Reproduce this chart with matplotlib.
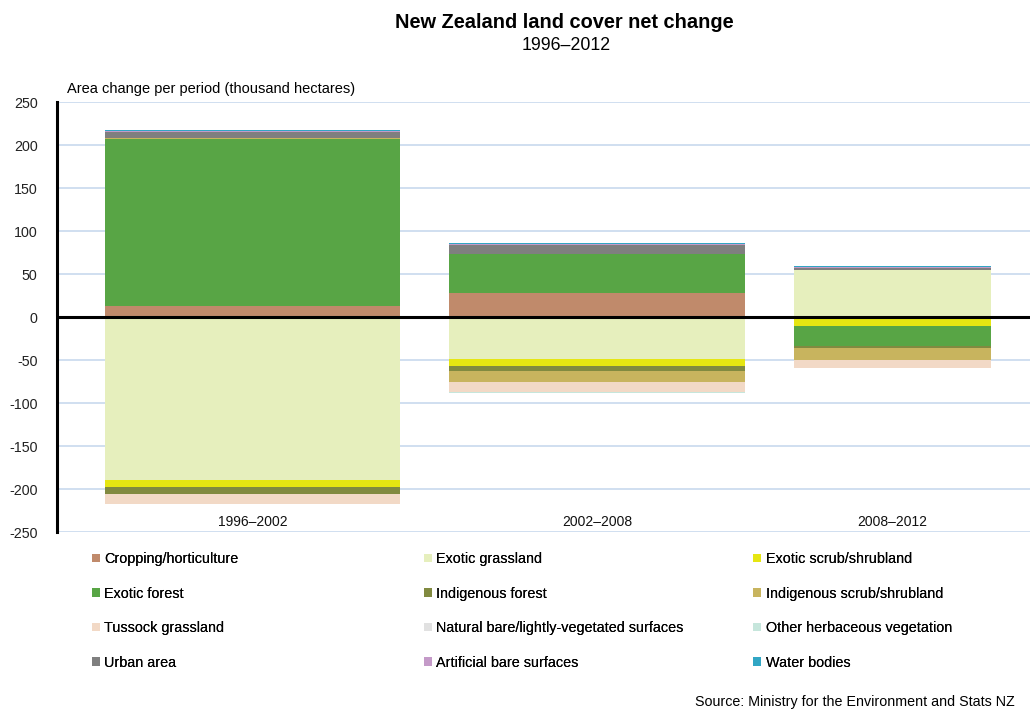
import matplotlib.pyplot as plt
from matplotlib.patches import Patch

plt.rcParams['font.family'] = ['Liberation Sans', 'DejaVu Sans']
plt.rcParams['axes.unicode_minus'] = False

# periods and their length in years (bar width follows the years)
periods = ['1996\u20132002', '2002\u20132008', '2008\u20132012']
years = [6, 6, 4]

classes = ['Cropping/horticulture', 'Exotic grassland', 'Exotic scrub/shrubland',
           'Exotic forest', 'Indigenous forest', 'Indigenous scrub/shrubland',
           'Tussock grassland', 'Natural bare/lightly-vegetated surfaces',
           'Other herbaceous vegetation', 'Urban area', 'Artificial bare surfaces',
           'Water bodies']

# net change, thousand hectares, per period
cropping = [13.0, 27.5, 0.0]
exotic_grass = [-189.0, -49.0, 54.7]
exotic_scrub = [-8.5, -8.0, -10.5]
exotic_forest = [194.0, 45.5, -23.5]
indig_forest = [-8.0, -5.5, -1.5]
indig_scrub = [1.5, -12.5, -14.0]
tussock = [-11.5, -12.0, -9.5]
natural_bare = [0.0, 0.0, 0.0]
other_herb = [-1.0, -1.2, -0.8]
urban = [7.0, 10.5, 2.5]
artificial = [0.5, 1.2, 1.0]
water = [1.5, 1.2, 1.0]

colors = ['#c08a6b', '#e6efbd', '#e6e612', '#58a545', '#818a40', '#c8b45e',
          '#f2d9c6', '#e1e1e1', '#c6e6dc', '#7f7f7f', '#c49ac8', '#31a6c4']

series = [cropping, exotic_grass, exotic_scrub, exotic_forest, indig_forest,
          indig_scrub, tussock, natural_bare, other_herb, urban, artificial, water]

fig = plt.figure(figsize=(10.3, 7.09), dpi=100)
ax = fig.add_axes([57 / 1030, 1 - 532 / 709, 1 - 57 / 1030, 430 / 709])

# bar start positions: one year gap between periods
starts = []
x = 0
for y in years:
    starts.append(x)
    x += y + 1

pos_base = [0.0] * len(periods)
neg_base = [0.0] * len(periods)
for vals, c in zip(series, colors):
    bottoms = []
    for i, v in enumerate(vals):
        if v >= 0:
            bottoms.append(pos_base[i])
            pos_base[i] += v
        else:
            bottoms.append(neg_base[i])
            neg_base[i] += v
    ax.bar(starts, vals, width=years, bottom=bottoms, align='edge',
           color=c, edgecolor='none', zorder=2)

ax.set_xlim(-0.97, 18.8)
ax.set_ylim(-250, 250)
ax.set_yticks(range(-250, 251, 50))
ax.set_xticks([])
ax.tick_params(axis='y', length=0, pad=14, labelsize=10.3, labelcolor='#222222')
ax.grid(axis='y', color='#c3d6ec', linewidth=1.1, zorder=0)
for s in ['top', 'right', 'bottom']:
    ax.spines[s].set_visible(False)
ax.spines['left'].set_linewidth(2.2)
ax.axhline(0, color='black', linewidth=2.2, zorder=3)

for s0, w, lab in zip(starts, years, periods):
    ax.text(s0 + w / 2, -238, lab, ha='center', va='center', fontsize=10,
            color='#111111')

fig.text(564 / 1030, 1 - 23 / 709, 'New Zealand land cover net change', ha='center',
         va='center', fontsize=14.4, fontweight='bold')
fig.text(566 / 1030, 1 - 46 / 709, '1996\u20132012', ha='center', va='center',
         fontsize=12.8)
fig.text(67 / 1030, 1 - 89 / 709, 'Area change per period (thousand hectares)',
         ha='left', va='center', fontsize=10.5)
fig.text(1015 / 1030, 1 - 702 / 709, 'Source: Ministry for the Environment and Stats NZ',
         ha='right', va='center', fontsize=10.3)

# legend: three columns, read row-wise
handles = [Patch(facecolor=c, edgecolor='none', label=l) for c, l in zip(colors, classes)]
col_x = [85, 417, 746]
for k, cx in enumerate(col_x):
    leg = fig.legend(handles=handles[k::3], loc='upper left',
                     bbox_to_anchor=(cx / 1030, 1 - 545 / 709), frameon=False,
                     fontsize=10.4, handlelength=0.55, handleheight=0.55,
                     handletextpad=0.3, labelspacing=1.42, borderpad=0)
    fig.add_artist(leg)

fig.savefig('out.png', dpi=100)
